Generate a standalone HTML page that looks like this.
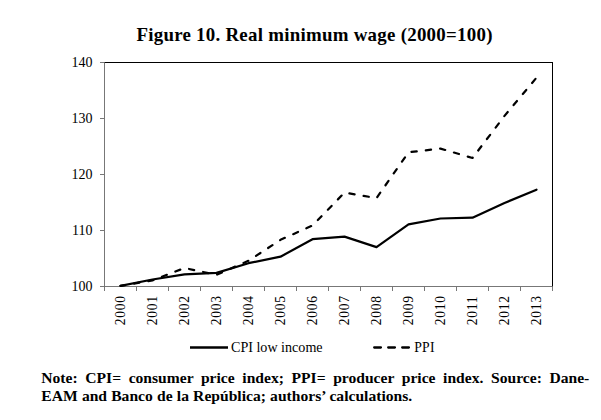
<!DOCTYPE html>
<html><head><meta charset="utf-8"><title>Figure 10</title>
<style>
html,body{margin:0;padding:0;background:#fff;}
body{width:601px;height:420px;position:relative;overflow:hidden;font-family:"Liberation Serif",serif;color:#000;}
svg{position:absolute;left:0;top:0;}
svg text{font-family:"Liberation Serif",serif;fill:#000;}
.note{position:absolute;left:41.3px;top:368.8px;width:548px;font-weight:bold;font-size:15.6px;line-height:17.75px;}
.note div{white-space:nowrap;height:17.75px;}
.note .l1{white-space:normal;text-align:justify;text-align-last:justify;}
</style></head><body>
<svg width="601" height="420" viewBox="0 0 601 420">
<text transform="translate(136.4,40.9) scale(1.05,1)" font-weight="bold" font-size="18" letter-spacing="0.25">Figure 10. Real minimum wage (2000=100)</text>
<rect x="104.5" y="62.5" width="448.0" height="224.0" fill="none" stroke="#000" stroke-width="1"/>
<g stroke="#777" stroke-width="1">
<line x1="104.5" y1="62.5" x2="104.5" y2="286.5"/>
<line x1="104.5" y1="286.5" x2="552.5" y2="286.5"/>
<line x1="104.5" y1="286.5" x2="104.5" y2="291.0"/><line x1="136.5" y1="286.5" x2="136.5" y2="291.0"/><line x1="168.5" y1="286.5" x2="168.5" y2="291.0"/><line x1="200.5" y1="286.5" x2="200.5" y2="291.0"/><line x1="232.5" y1="286.5" x2="232.5" y2="291.0"/><line x1="264.5" y1="286.5" x2="264.5" y2="291.0"/><line x1="296.5" y1="286.5" x2="296.5" y2="291.0"/><line x1="328.5" y1="286.5" x2="328.5" y2="291.0"/><line x1="360.5" y1="286.5" x2="360.5" y2="291.0"/><line x1="392.5" y1="286.5" x2="392.5" y2="291.0"/><line x1="424.5" y1="286.5" x2="424.5" y2="291.0"/><line x1="456.5" y1="286.5" x2="456.5" y2="291.0"/><line x1="488.5" y1="286.5" x2="488.5" y2="291.0"/><line x1="520.5" y1="286.5" x2="520.5" y2="291.0"/><line x1="552.5" y1="286.5" x2="552.5" y2="291.0"/>
<line x1="100.0" y1="286.5" x2="104.5" y2="286.5"/><line x1="100.0" y1="230.5" x2="104.5" y2="230.5"/><line x1="100.0" y1="174.5" x2="104.5" y2="174.5"/><line x1="100.0" y1="118.5" x2="104.5" y2="118.5"/><line x1="100.0" y1="62.5" x2="104.5" y2="62.5"/>
</g>
<g font-size="14"><text x="92.4" y="290.8" text-anchor="end">100</text><text x="92.4" y="234.8" text-anchor="end">110</text><text x="92.4" y="178.8" text-anchor="end">120</text><text x="92.4" y="122.8" text-anchor="end">130</text><text x="92.4" y="66.8" text-anchor="end">140</text></g>
<g font-size="13.6" letter-spacing="0.75"><text transform="translate(125.0,325.3) rotate(-90)">2000</text><text transform="translate(157.0,325.3) rotate(-90)">2001</text><text transform="translate(189.0,325.3) rotate(-90)">2002</text><text transform="translate(221.0,325.3) rotate(-90)">2003</text><text transform="translate(253.0,325.3) rotate(-90)">2004</text><text transform="translate(285.0,325.3) rotate(-90)">2005</text><text transform="translate(317.0,325.3) rotate(-90)">2006</text><text transform="translate(349.0,325.3) rotate(-90)">2007</text><text transform="translate(381.0,325.3) rotate(-90)">2008</text><text transform="translate(413.0,325.3) rotate(-90)">2009</text><text transform="translate(445.0,325.3) rotate(-90)">2010</text><text transform="translate(477.0,325.3) rotate(-90)">2011</text><text transform="translate(509.0,325.3) rotate(-90)">2012</text><text transform="translate(541.0,325.3) rotate(-90)">2013</text></g>
<polyline points="120.5,285.9 152.5,279.5 184.5,274.3 216.5,272.9 248.5,263.2 280.5,256.7 312.5,239.2 344.5,236.6 376.5,247.1 408.5,224.4 440.5,218.5 472.5,217.7 504.5,203.0 536.5,189.7" fill="none" stroke="#000" stroke-width="2.2" stroke-linejoin="round" stroke-linecap="round"/>
<polyline points="120.5,285.9 152.5,280.4 184.5,268.0 216.5,274.8 248.5,260.8 280.5,239.8 312.5,225.5 344.5,192.6 376.5,198.1 408.5,152.3 440.5,148.6 472.5,158.0 504.5,115.9 536.5,77.7" fill="none" stroke="#000" stroke-width="2.2" stroke-linejoin="round" stroke-linecap="round" stroke-dasharray="5.3 9.1" stroke-dashoffset="0.6"/>
<line x1="190" y1="347.5" x2="228" y2="347.5" stroke="#000" stroke-width="2.3"/>
<text x="231.0" y="352.4" font-size="14.1">CPI low income</text>
<line x1="374.2" y1="347.5" x2="409" y2="347.5" stroke="#000" stroke-width="2.3" stroke-linecap="round" stroke-dasharray="6.7 7.3"/>
<text x="414.2" y="352.3" font-size="13.7" letter-spacing="0.25">PPI</text>
</svg>
<div class="note"><div class="l1">Note: CPI= consumer price index; PPI= producer price index. Source: Dane-</div><div style="word-spacing:0.3px">EAM and Banco de la República; authors’ calculations.</div></div>
</body></html>
